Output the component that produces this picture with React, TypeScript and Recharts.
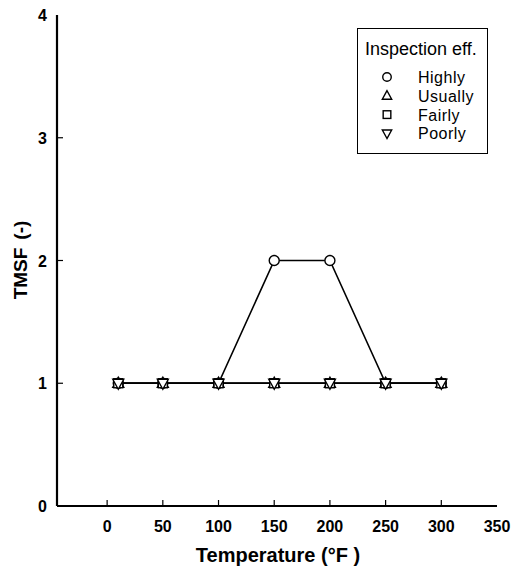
import { LineChart, Line, XAxis, YAxis } from 'recharts'

const temps = [10, 50, 100, 150, 200, 250, 300]
const highly = [1, 1, 1, 2, 2, 1, 1]
const usually = [1, 1, 1, 1, 1, 1, 1]
const fairly = [1, 1, 1, 1, 1, 1, 1]
const poorly = [1, 1, 1, 1, 1, 1, 1]
const xTicks = [0, 50, 100, 150, 200, 250, 300, 350]
const yTicks = [0, 1, 2, 3, 4]

const data = temps.map((t, i) => ({
  t,
  highly: highly[i],
  usually: usually[i],
  fairly: fairly[i],
  poorly: poorly[i],
}))

const FONT = 'Liberation Sans, Arial, sans-serif'

type Shape = 'circle' | 'up' | 'square' | 'down'

function Marker({ cx, cy, shape, s = 1 }: { cx: number; cy: number; shape: Shape; s?: number }) {
  const p = { fill: '#fff', stroke: '#000', strokeWidth: 1.4 }
  if (shape === 'circle') return <circle cx={cx} cy={cy} r={5 * s} {...p} />
  if (shape === 'square') return <rect x={cx - 4.5 * s} y={cy - 4.5 * s} width={9 * s} height={9 * s} {...p} />
  if (shape === 'up')
    return <polygon points={`${cx},${cy - 6 * s} ${cx - 5.5 * s},${cy + 4 * s} ${cx + 5.5 * s},${cy + 4 * s}`} {...p} />
  return <polygon points={`${cx},${cy + 6 * s} ${cx - 5.5 * s},${cy - 4 * s} ${cx + 5.5 * s},${cy - 4 * s}`} {...p} />
}

const dotFor = (shape: Shape) => (props: any) =>
  <Marker key={`${shape}-${props.index}`} cx={props.cx} cy={props.cy} shape={shape} />

function XTick(props: any) {
  const { x, y, payload } = props
  const edge = payload.value === 350
  return (
    <g>
      {!edge && <line x1={x} y1={y} x2={x} y2={y - 6} stroke="#000" strokeWidth={1.2} />}
      <text x={x} y={y + 26} textAnchor="middle" fontFamily={FONT} fontWeight="bold" fontSize={16} fill="#000">
        {payload.value}
      </text>
    </g>
  )
}

function YTick(props: any) {
  const { x, y, payload } = props
  const edge = payload.value === 0 || payload.value === 4
  return (
    <g>
      {!edge && <line x1={x} y1={y} x2={x + 6} y2={y} stroke="#000" strokeWidth={1.2} />}
      <text x={x - 10} y={y + 6} textAnchor="end" fontFamily={FONT} fontWeight="bold" fontSize={16} fill="#000">
        {payload.value}
      </text>
    </g>
  )
}

const legendItems: { label: string; shape: Shape }[] = [
  { label: 'Highly', shape: 'circle' },
  { label: 'Usually', shape: 'up' },
  { label: 'Fairly', shape: 'square' },
  { label: 'Poorly', shape: 'down' },
]

export default function App() {
  return (
    <div style={{ position: 'relative', width: 512, height: 561, background: '#fff' }}>
      <LineChart width={512} height={561} data={data} margin={{ top: 7, right: 23, left: 0, bottom: 0 }}>
        <XAxis
          xAxisId="b"
          dataKey="t"
          type="number"
          domain={[-45, 350]}
          ticks={xTicks}
          interval={0}
          height={63}
          tickSize={0}
          tickMargin={0}
          tickLine={false}
          axisLine={{ stroke: '#000', strokeWidth: 2.2 }}
          tick={<XTick />}
        />
        <XAxis xAxisId="t" orientation="top" dataKey="t" type="number" domain={[-45, 350]} height={0} tick={false} tickLine={false} axisLine={{ stroke: '#000', strokeWidth: 2.2 }} />
        <YAxis
          yAxisId="l"
          type="number"
          domain={[0, 4]}
          ticks={yTicks}
          interval={0}
          width={49}
          tickSize={0}
          tickMargin={0}
          tickLine={false}
          axisLine={{ stroke: '#000', strokeWidth: 2.2 }}
          tick={<YTick />}
        />
        <YAxis yAxisId="r" orientation="right" type="number" domain={[0, 4]} width={0} tick={false} tickLine={false} axisLine={{ stroke: '#000', strokeWidth: 2.2 }} />
        <Line xAxisId="b" yAxisId="l" dataKey="highly" stroke="#000" strokeWidth={1.6} dot={dotFor('circle')} isAnimationActive={false} />
        <Line xAxisId="b" yAxisId="l" dataKey="usually" stroke="#000" strokeWidth={1.6} dot={dotFor('up')} isAnimationActive={false} />
        <Line xAxisId="b" yAxisId="l" dataKey="fairly" stroke="#000" strokeWidth={1.6} dot={dotFor('square')} isAnimationActive={false} />
        <Line xAxisId="b" yAxisId="l" dataKey="poorly" stroke="#000" strokeWidth={1.6} dot={dotFor('down')} isAnimationActive={false} />
      </LineChart>
      <svg width={512} height={561} style={{ position: 'absolute', left: 0, top: 0, pointerEvents: 'none' }}>
        {/* axis titles */}
        <text transform="translate(19, 252) rotate(-90)" textAnchor="middle" fontFamily={FONT} fontWeight="bold" fontSize={19} fill="#000">
          TMSF<tspan dx={8}>(-)</tspan>
        </text>
        <text x={270} y={554} textAnchor="middle" fontFamily={FONT} fontWeight="bold" fontSize={20} fill="#000">
          Temperature (°F )
        </text>
        {/* legend */}
        <rect x={349.5} y={20.5} width={130} height={125} fill="#fff" stroke="#000" strokeWidth={1} />
        <text x={357} y={47} fontFamily={FONT} fontSize={18} fill="#000">Inspection eff.</text>
        {legendItems.map((it, i) => (
          <g key={it.label}>
            <Marker cx={379} cy={69 + i * 18.8} shape={it.shape} s={0.85} />
            <text x={410} y={75 + i * 18.8} fontFamily={FONT} fontSize={16} letterSpacing={0.5} fill="#000">{it.label}</text>
          </g>
        ))}
      </svg>
    </div>
  )
}
